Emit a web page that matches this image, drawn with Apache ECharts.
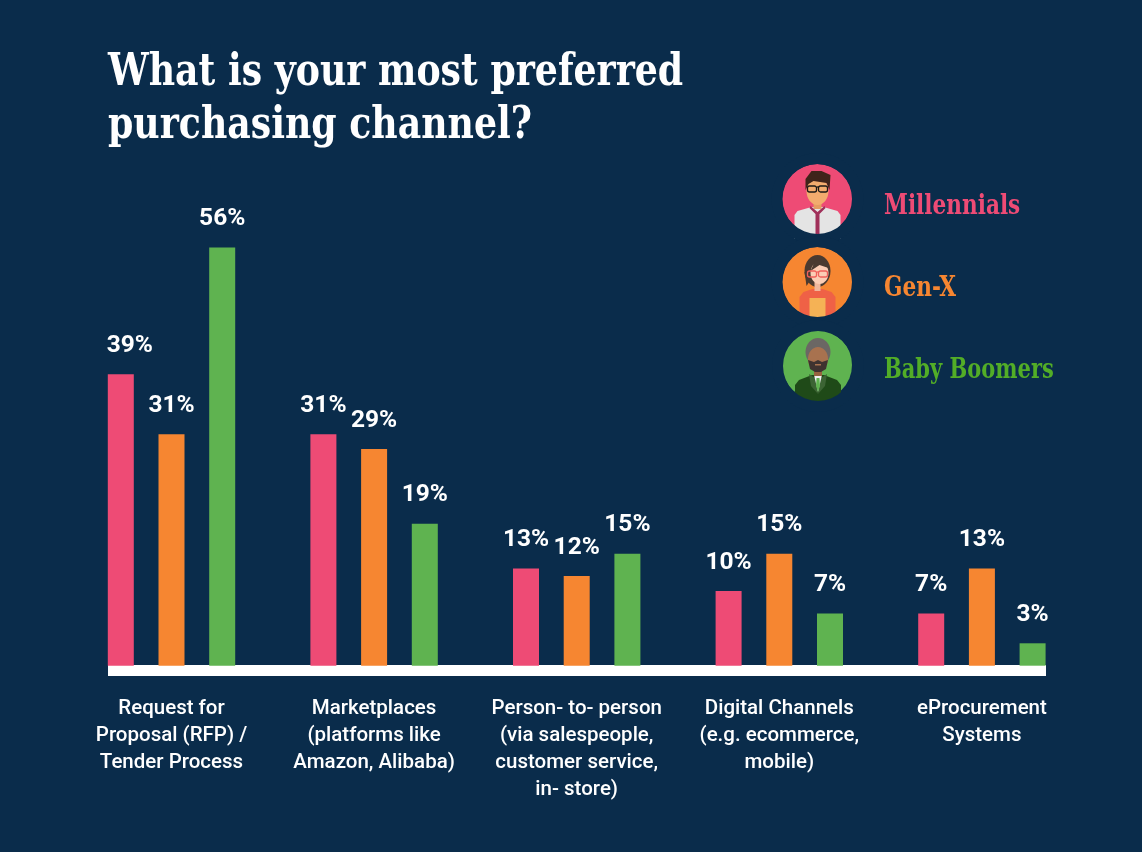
<!DOCTYPE html>
<html>
<head>
<meta charset="utf-8">
<title>Purchasing channel</title>
<script src="https://cdn.jsdelivr.net/npm/echarts@6/dist/echarts.min.js"></script>
<style>
html,body{margin:0;padding:0;background:#0a2c4b;}
#chart{width:1142px;height:852px;}
</style>
</head>
<body>
<div id="chart"></div>
<script>
var categories = [
    'Request for\nProposal (RFP) /\nTender Process',
    'Marketplaces\n(platforms like\nAmazon, Alibaba)',
    'Person- to- person\n(via salespeople,\ncustomer service,\nin- store)',
    'Digital Channels\n(e.g. ecommerce,\nmobile)',
    'eProcurement\nSystems'
];
var millennials = [39, 31, 13, 10, 7];
var genX = [31, 29, 12, 15, 13];
var babyBoomers = [56, 19, 15, 7, 3];

var bg = '#0a2c4b';
var pink = '#ee4b75';
var orange = '#f68631';
var green = '#5fb350';
var slab = 'DejaVu Serif';

function barSeries(name, data, color, firstLabelDx){
    return {
        name: name,
        type: 'bar',
        data: data.map(function(v, i){
            // the first label of a series sits off centre in the original
            return i === 0 && firstLabelDx ? {value: v, label: {offset: [firstLabelDx, 0]}} : v;
        }),
        barWidth: 26,
        barGap: '95%',
        z: 3,
        itemStyle: {color: color},
        label: {
            show: true,
            position: 'top',
            distance: 16,
            formatter: '{c}%',
            color: '#fff',
            fontFamily: 'Roboto',
            fontSize: 24.5,
            fontWeight: 700
        }
    };
}

// text in a wide slab face, squeezed to the width of the original lettering
function slabText(text, x, y, size, squeeze, color, lineHeight){
    return {
        type: 'text', z: 10, x: x, y: y, scaleX: squeeze,
        style: {
            text: text, fill: color,
            font: 'bold ' + size + 'px "' + slab + '"',
            lineHeight: lineHeight || size,
            verticalAlign: 'middle'
        }
    };
}

// small helpers for the avatar drawings
function e(x, y, rx, ry, fill){ return {type:'ellipse', z:10, shape:{cx:x, cy:y, rx:rx, ry:ry}, style:{fill:fill}}; }
function r(x, y, w, h, fill, rad){ return {type:'rect', z:10, shape:{x:x, y:y, width:w, height:h, r:rad||0}, style:{fill:fill}}; }
function p(points, fill){ return {type:'polygon', z:10, shape:{points:points}, style:{fill:fill}}; }
function glasses(color, y){
    return [
        {type:'rect', z:11, shape:{x:-10, y:y, width:9, height:6, r:2}, style:{fill:'none', stroke:color, lineWidth:1.3}},
        {type:'rect', z:11, shape:{x:1, y:y, width:9, height:6, r:2}, style:{fill:'none', stroke:color, lineWidth:1.3}},
        {type:'line', z:11, shape:{x1:-1, y1:y+1, x2:1, y2:y+1}, style:{stroke:color, lineWidth:1.3}}
    ];
}
// ring in the background colour, trims the bodies to the circle
function trim(){ return {type:'ring', z:12, shape:{cx:0, cy:0, r:46, r0:35}, style:{fill:bg}}; }

var man = [
    p([[-23,40],[-23,16],[-20,12],[-6,8],[6,8],[20,12],[23,16],[23,40]], '#e4e4e4'),
    r(-4, 2, 8, 8, '#e59d62'),
    e(0, -8, 11, 14, '#f2ac6e'),
    p([[-12,-9],[-12,-20],[-6,-28],[4,-28],[13,-24],[12,-9],[9,-16],[-4,-18],[-9,-15]], '#40241a'),
    p([[-7,7],[0,13],[7,7],[8,9],[2,15],[2,36],[-2,36],[-2,15],[-8,9]], '#a0305a')
].concat(glasses('#1c1a16', -13));

var woman = [
    e(0, -11, 13, 16, '#4a3a30'),
    p([[-13,-10],[-11,4],[-7,-2],[-7,-10]], '#4a3a30'),
    p([[-18,40],[-18,15],[-14,10],[-5,7],[5,7],[14,10],[18,15],[18,40]], '#ef6146'),
    r(-3, 0, 6, 9, '#f0b79c'),
    e(2, -9, 9, 11, '#fbcdb5'),
    p([[-7,-11],[-2,-22],[9,-20],[11,-14],[2,-17]], '#4a3a30'),
    r(-8, 16, 16, 22, '#f5b255')
].concat(glasses('#f0605a', -11));

var boomer = [
    p([[-23,40],[-23,19],[-19,14],[-6,9],[6,9],[19,14],[23,19],[23,40]], '#1f4a18'),
    p([[-9,8],[-3,12],[0,28],[-7,20]], '#3c6434'),
    p([[9,8],[3,12],[0,28],[7,20]], '#3c6434'),
    p([[-4,9],[4,9],[0,26]], '#f0f0f0'),
    p([[-1.5,12],[1.5,12],[2,20],[0,26],[-2,20]], green),
    r(-4, 2, 8, 8, '#96623f'),
    e(0, -14, 12.5, 14, '#6b6764'),
    e(0, -7, 10, 12, '#a8724f'),
    p([[-10,-6],[-4,-4],[0,-6],[4,-4],[10,-6],[8,3],[3,6],[-3,6],[-8,3]], '#3f3330'),
    r(-3, -2, 6, 1.5, '#a8724f')
];

function avatar(x, y, children){
    return {type:'group', x:x, y:y, children:children.concat([trim()])};
}

var myChart = echarts.init(document.getElementById('chart'));
myChart.setOption({
    animation: false,
    backgroundColor: bg,
    legend: {
        orient: 'vertical',
        left: 782,
        top: 164,
        padding: 0,
        itemGap: 13,
        itemWidth: 70,
        itemHeight: 70,
        icon: 'circle',
        selectedMode: false,
        formatter: function(){ return ''; },
        data: ['Millennials', 'Gen-X', 'Baby Boomers']
    },
    grid: {left: 70.2, width: 1013, top: 217.5, height: 448.2},
    xAxis: {
        type: 'category',
        data: categories,
        axisLine: {show: false},
        axisTick: {show: false},
        axisLabel: {
            interval: 0,
            margin: 30,
            color: '#fff',
            fontFamily: 'Roboto',
            fontSize: 20.5,
            fontWeight: 500,
            lineHeight: 27
        }
    },
    yAxis: {type: 'value', min: 0, max: 60, show: false},
    graphic: [
        {type:'rect', z:1, shape:{x:108, y:665, width:938, height:11}, style:{fill:'#fff'}},
        slabText('What is your most preferred\npurchasing channel?', 108, 100, 44, 0.824, '#fff', 53),
        slabText('Millennials', 884, 207, 27, 0.8, pink),
        slabText('Gen-X', 884, 289, 27, 0.8, orange),
        slabText('Baby Boomers', 884, 371, 27, 0.778, '#52ad27'),
        avatar(817.5, 199, man),
        avatar(817.5, 282, woman),
        avatar(818, 366, boomer)
    ],
    series: [
        barSeries('Millennials', millennials, pink, 9),
        barSeries('Gen-X', genX, orange),
        barSeries('Baby Boomers', babyBoomers, green)
    ]
});
</script>
</body>
</html>
